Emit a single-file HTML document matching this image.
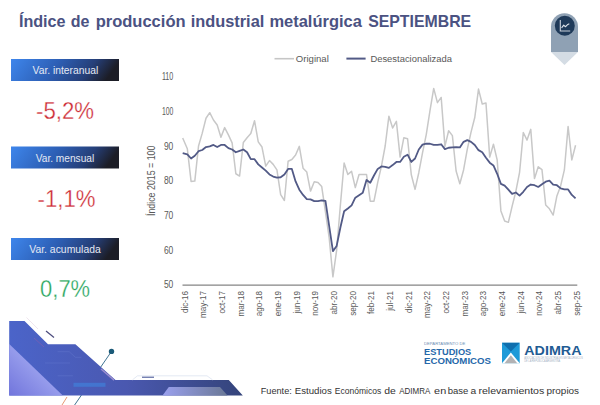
<!DOCTYPE html>
<html><head><meta charset="utf-8">
<style>
html,body{margin:0;padding:0;background:#fff;}
body{width:600px;height:405px;overflow:hidden;}
svg{display:block;font-family:"Liberation Sans",sans-serif;}
.xl{font-size:9.8px;fill:#595959;}
.yl{font-size:10px;fill:#595959;}
</style></head>
<body>
<svg width="600" height="405" viewBox="0 0 600 405">
<defs>
<linearGradient id="bx" x1="0" y1="0" x2="1" y2="0.15">
<stop offset="0" stop-color="#3e86ec"/>
<stop offset="0.45" stop-color="#2d5fb5"/>
<stop offset="0.78" stop-color="#263f78"/>
<stop offset="1" stop-color="#1c1d26"/>
</linearGradient>
<linearGradient id="dmain" x1="0" y1="0" x2="1" y2="0">
<stop offset="0" stop-color="#4b64c9"/>
<stop offset="0.5" stop-color="#4a58b0"/>
<stop offset="1" stop-color="#34447a"/>
</linearGradient>
<linearGradient id="dlight" x1="0" y1="1" x2="1" y2="0">
<stop offset="0" stop-color="#7175dc"/>
<stop offset="0.6" stop-color="#9ea4ef"/>
<stop offset="1" stop-color="#b2b8f4"/>
</linearGradient>
<linearGradient id="dpar" x1="0" y1="0" x2="1" y2="0">
<stop offset="0" stop-color="#9aa0ee"/>
<stop offset="1" stop-color="#6a7896"/>
</linearGradient>
</defs>

<!-- title -->
<g font-size="16.4" font-weight="bold" fill="#4b5282">
<text x="18.90" y="26.5" textLength="46.70" lengthAdjust="spacingAndGlyphs">Índice</text>
<text x="70.65" y="26.5" textLength="18.70" lengthAdjust="spacingAndGlyphs">de</text>
<text x="95.65" y="26.5" textLength="89.95" lengthAdjust="spacingAndGlyphs">producción</text>
<text x="190.65" y="26.5" textLength="73.70" lengthAdjust="spacingAndGlyphs">industrial</text>
<text x="269.40" y="26.5" textLength="92.45" lengthAdjust="spacingAndGlyphs">metalúrgica</text>
<text x="368.15" y="26.5" textLength="103.05" lengthAdjust="spacingAndGlyphs">SEPTIEMBRE</text>
</g>

<!-- badge -->
<path d="M551,52 L551,26.7 A13.5,13.5 0 0 1 578,26.7 L578,52 Z" fill="#8fa1b4"/>
<path d="M551,52 L578,52 L564.5,65 Z" fill="#d4dce4"/>
<circle cx="564.8" cy="25.8" r="10" fill="#1f3a59"/>
<path d="M560.3,20 V31 H570.2" stroke="#c9d0da" stroke-width="1.1" fill="none"/>
<path d="M561.6,27.8 L563.7,25.2 L565.6,26.7 L567.8,24.4 L569.3,23.7" stroke="#dfe4ea" stroke-width="1.1" fill="none" stroke-linejoin="round"/>

<!-- boxes -->
<rect x="11" y="59" width="108" height="22" fill="url(#bx)"/>
<rect x="11" y="146.5" width="108" height="22" fill="url(#bx)"/>
<rect x="11" y="238" width="108" height="22" fill="url(#bx)"/>
<g font-size="10.3" fill="#e4e9f4" text-anchor="middle">
<text x="65.4" y="74.3" textLength="65.7" lengthAdjust="spacingAndGlyphs">Var. interanual</text>
<text x="65" y="161.7" textLength="58.5" lengthAdjust="spacingAndGlyphs">Var. mensual</text>
<text x="65" y="252.8" textLength="71.5" lengthAdjust="spacingAndGlyphs">Var. acumulada</text>
</g>
<g font-size="23.2" text-anchor="middle">
<text x="65" y="118.6" fill="#cd2c35" textLength="58" lengthAdjust="spacingAndGlyphs">-5,2%</text>
<text x="66.6" y="206.6" fill="#cd2c35" textLength="58" lengthAdjust="spacingAndGlyphs">-1,1%</text>
<text x="65.1" y="296.8" fill="#27a55c" textLength="50" lengthAdjust="spacingAndGlyphs">0,7%</text>
</g>
<g font-size="23.2" text-anchor="middle" fill="none" stroke="#fff" stroke-width="0.3">
<text x="65" y="118.6" textLength="58" lengthAdjust="spacingAndGlyphs">-5,2%</text>
<text x="66.6" y="206.6" textLength="58" lengthAdjust="spacingAndGlyphs">-1,1%</text>
<text x="65.1" y="296.8" textLength="50" lengthAdjust="spacingAndGlyphs">0,7%</text>
</g>

<!-- legend -->
<line x1="274.5" y1="58.7" x2="294" y2="58.7" stroke="#c6c6c6" stroke-width="1.6"/>
<text x="295.8" y="62" font-size="9.6" fill="#595959" textLength="33" lengthAdjust="spacingAndGlyphs">Original</text>
<line x1="346.4" y1="58.6" x2="365.6" y2="58.6" stroke="#525a86" stroke-width="2"/>
<text x="370.4" y="62" font-size="9.6" fill="#595959" textLength="81.6" lengthAdjust="spacingAndGlyphs">Desestacionalizada</text>

<!-- y labels -->
<text class="yl" x="173.3" y="288.40" text-anchor="end" textLength="9.4" lengthAdjust="spacingAndGlyphs">50</text>
<text class="yl" x="173.3" y="253.70" text-anchor="end" textLength="9.4" lengthAdjust="spacingAndGlyphs">60</text>
<text class="yl" x="173.3" y="219.00" text-anchor="end" textLength="9.4" lengthAdjust="spacingAndGlyphs">70</text>
<text class="yl" x="173.3" y="184.30" text-anchor="end" textLength="9.4" lengthAdjust="spacingAndGlyphs">80</text>
<text class="yl" x="173.3" y="149.60" text-anchor="end" textLength="9.4" lengthAdjust="spacingAndGlyphs">90</text>
<text class="yl" x="173.3" y="114.90" text-anchor="end" textLength="11.4" lengthAdjust="spacingAndGlyphs">100</text>
<text class="yl" x="173.3" y="80.20" text-anchor="end" textLength="11.4" lengthAdjust="spacingAndGlyphs">110</text>
<text transform="translate(155.3,180.8) rotate(-90)" text-anchor="middle" font-size="10" fill="#595959" textLength="70.5" lengthAdjust="spacingAndGlyphs">Índice 2015 = 100</text>

<!-- axis -->
<line x1="182.5" y1="285.2" x2="577.3" y2="285.2" stroke="#858585" stroke-width="1.3"/>
<text class="xl" transform="translate(187.70,291) rotate(-90)" text-anchor="end" textLength="22.0" lengthAdjust="spacingAndGlyphs">dic-16</text>
<text class="xl" transform="translate(206.36,291) rotate(-90)" text-anchor="end" textLength="26.9" lengthAdjust="spacingAndGlyphs">may-17</text>
<text class="xl" transform="translate(225.03,291) rotate(-90)" text-anchor="end" textLength="22.5" lengthAdjust="spacingAndGlyphs">oct-17</text>
<text class="xl" transform="translate(243.69,291) rotate(-90)" text-anchor="end" textLength="25.6" lengthAdjust="spacingAndGlyphs">mar-18</text>
<text class="xl" transform="translate(262.36,291) rotate(-90)" text-anchor="end" textLength="25.2" lengthAdjust="spacingAndGlyphs">ago-18</text>
<text class="xl" transform="translate(281.03,291) rotate(-90)" text-anchor="end" textLength="25.2" lengthAdjust="spacingAndGlyphs">ene-19</text>
<text class="xl" transform="translate(299.69,291) rotate(-90)" text-anchor="end" textLength="22.5" lengthAdjust="spacingAndGlyphs">jun-19</text>
<text class="xl" transform="translate(318.36,291) rotate(-90)" text-anchor="end" textLength="24.7" lengthAdjust="spacingAndGlyphs">nov-19</text>
<text class="xl" transform="translate(337.02,291) rotate(-90)" text-anchor="end" textLength="23.4" lengthAdjust="spacingAndGlyphs">abr-20</text>
<text class="xl" transform="translate(355.69,291) rotate(-90)" text-anchor="end" textLength="24.7" lengthAdjust="spacingAndGlyphs">sep-20</text>
<text class="xl" transform="translate(374.35,291) rotate(-90)" text-anchor="end" textLength="22.9" lengthAdjust="spacingAndGlyphs">feb-21</text>
<text class="xl" transform="translate(393.01,291) rotate(-90)" text-anchor="end" textLength="19.8" lengthAdjust="spacingAndGlyphs">jul-21</text>
<text class="xl" transform="translate(411.68,291) rotate(-90)" text-anchor="end" textLength="22.0" lengthAdjust="spacingAndGlyphs">dic-21</text>
<text class="xl" transform="translate(430.35,291) rotate(-90)" text-anchor="end" textLength="26.9" lengthAdjust="spacingAndGlyphs">may-22</text>
<text class="xl" transform="translate(449.01,291) rotate(-90)" text-anchor="end" textLength="22.5" lengthAdjust="spacingAndGlyphs">oct-22</text>
<text class="xl" transform="translate(467.68,291) rotate(-90)" text-anchor="end" textLength="25.6" lengthAdjust="spacingAndGlyphs">mar-23</text>
<text class="xl" transform="translate(486.34,291) rotate(-90)" text-anchor="end" textLength="25.2" lengthAdjust="spacingAndGlyphs">ago-23</text>
<text class="xl" transform="translate(505.00,291) rotate(-90)" text-anchor="end" textLength="25.2" lengthAdjust="spacingAndGlyphs">ene-24</text>
<text class="xl" transform="translate(523.67,291) rotate(-90)" text-anchor="end" textLength="22.5" lengthAdjust="spacingAndGlyphs">jun-24</text>
<text class="xl" transform="translate(542.34,291) rotate(-90)" text-anchor="end" textLength="24.7" lengthAdjust="spacingAndGlyphs">nov-24</text>
<text class="xl" transform="translate(561.00,291) rotate(-90)" text-anchor="end" textLength="23.4" lengthAdjust="spacingAndGlyphs">abr-25</text>
<text class="xl" transform="translate(579.67,291) rotate(-90)" text-anchor="end" textLength="24.7" lengthAdjust="spacingAndGlyphs">sep-25</text>

<!-- lines -->
<polyline points="182.70,138.02 187.33,148.78 191.07,181.39 194.80,181.05 198.53,146.00 202.26,133.16 206.00,118.24 209.73,112.69 213.46,119.97 217.20,125.01 220.93,137.33 224.66,127.61 228.40,134.90 232.13,142.88 235.86,173.76 239.59,176.02 243.33,142.53 247.06,137.67 250.79,133.51 254.53,120.67 258.26,141.84 261.99,147.04 265.73,166.13 269.46,160.57 273.19,164.39 276.93,169.94 280.66,194.58 284.39,200.48 288.12,161.27 291.86,159.53 295.59,155.02 299.32,146.35 303.06,168.21 306.79,172.03 310.52,191.11 314.25,181.74 317.99,182.44 321.72,186.60 325.45,211.93 329.19,237.96 332.92,276.82 336.65,250.10 340.39,204.99 344.12,163.00 347.85,174.45 351.59,171.33 355.32,187.64 359.05,174.45 362.78,174.45 366.52,174.45 370.25,201.17 373.98,201.17 377.72,182.44 381.45,166.13 385.18,146.00 388.91,116.16 392.65,127.96 396.38,121.36 400.11,157.10 403.85,137.67 407.58,138.71 411.31,174.80 415.05,189.38 418.78,172.72 422.51,152.94 426.25,134.55 429.98,110.61 433.71,88.40 437.44,102.62 441.18,97.42 444.91,146.35 448.64,130.73 452.38,135.59 456.11,170.98 459.84,183.82 463.58,169.94 467.31,149.12 471.04,132.12 474.77,117.55 478.51,89.09 482.24,104.01 485.97,102.97 489.71,157.10 493.44,144.27 497.17,159.88 500.90,210.89 504.64,220.95 508.37,222.34 512.10,206.38 515.84,191.46 519.57,172.37 523.30,132.47 527.04,140.10 530.77,129.34 534.50,178.62 538.24,166.82 541.97,169.60 545.70,204.99 549.43,208.81 553.17,215.05 556.90,195.97 560.63,185.91 564.37,169.94 568.10,126.57 571.83,159.88 575.57,145.31" fill="none" stroke="#c8c8c8" stroke-width="1.5" stroke-linejoin="round"/>
<polyline points="182.70,153.11 187.33,154.33 191.07,158.49 194.80,155.72 198.53,151.21 202.26,149.99 206.00,147.04 209.73,146.35 213.46,144.96 217.20,147.04 220.93,144.96 224.66,144.96 228.40,148.08 232.13,149.47 235.86,152.25 239.59,150.86 243.33,149.47 247.06,152.25 250.79,159.19 254.53,159.19 258.26,164.39 261.99,167.51 265.73,170.64 269.46,174.45 273.19,176.54 276.93,177.58 280.66,177.23 284.39,174.45 288.12,168.90 291.86,168.90 295.59,181.39 299.32,189.72 303.06,194.93 306.79,199.09 310.52,199.44 314.25,201.17 317.99,201.17 321.72,200.48 325.45,200.83 329.19,226.16 332.92,251.14 336.65,245.94 340.39,227.55 344.12,211.24 347.85,208.46 351.59,205.34 355.32,197.70 359.05,195.27 362.78,192.85 366.52,180.01 370.25,182.78 373.98,175.50 377.72,168.90 381.45,166.47 385.18,166.82 388.91,167.86 392.65,165.09 396.38,161.96 400.11,161.96 403.85,156.76 407.58,154.68 411.31,161.96 415.05,158.49 418.78,149.47 422.51,144.61 426.25,143.57 429.98,143.74 433.71,144.96 437.44,144.96 441.18,144.27 444.91,149.12 448.64,147.74 452.38,147.39 456.11,147.04 459.84,147.39 463.58,141.84 467.31,140.10 471.04,141.84 474.77,144.96 478.51,150.16 482.24,152.25 485.97,157.80 489.71,162.66 493.44,165.43 497.17,173.76 500.90,183.82 504.64,185.56 508.37,189.72 512.10,193.89 515.84,192.50 519.57,195.62 523.30,191.80 527.04,186.95 530.77,184.52 534.50,185.21 538.24,186.95 541.97,184.17 545.70,181.74 549.43,180.70 553.17,184.52 556.90,185.21 560.63,188.33 564.37,189.38 568.10,189.38 571.83,194.93 575.57,198.40" fill="none" stroke="#525a86" stroke-width="1.8" stroke-linejoin="round"/>

<!-- decoration -->
<path d="M26.5,317.5 L38,329" stroke="#efe6ee" stroke-width="1"/>
<line x1="111.5" y1="351.4" x2="74.6" y2="405" stroke="#2a6486" stroke-width="0.9"/>
<path d="M9.2,321 L24.5,321 L48,344.3 L75.4,344.3 L115.5,380.1 L228.8,380.1 L242.8,395.6 L9.2,395.6 Z" fill="url(#dmain)"/>
<path d="M9.2,344 L62.8,395.6 L9.2,395.6 Z" fill="url(#dlight)"/>
<path d="M162.5,395.6 L168.8,387 L220,387 L227.5,395.6 Z" fill="url(#dpar)"/>
<rect x="73.5" y="382.8" width="32" height="4" fill="#3f86e0" opacity="0.6"/>
<g stroke="#8ea4ec" stroke-width="0.5" fill="none" opacity="0.35">
<path d="M57.5,351.7 L69.2,351.7 L75.4,357.3 L81.5,357.3"/>
<path d="M57.5,375.8 L72.9,375.8"/>
<path d="M45,363 L70,363"/>
</g>
<path d="M101,369 L114,380.1" stroke="#9a8ed0" stroke-width="1.4"/>
<circle cx="111.5" cy="351.4" r="2.7" fill="#1b5a78"/>
<line x1="67" y1="397" x2="62" y2="405" stroke="#e08050" stroke-width="0.8"/>
<path d="M132.5,379.8 L137.5,375.8 L207,375.8 L212.5,379.8" fill="none" stroke="#dde3f0" stroke-width="0.8"/>
<line x1="142" y1="377.2" x2="154" y2="377.2" stroke="#3a4a90" stroke-width="1"/>
<line x1="46" y1="331" x2="54" y2="337.5" stroke="#4a4a7c" stroke-width="1.2"/>
<line x1="34" y1="338" x2="44" y2="347" stroke="#8a5fb0" stroke-width="1" opacity="0.6"/>

<!-- logos -->
<text x="424" y="344.7" font-size="4.2" fill="#6d8db3" textLength="41.3" lengthAdjust="spacingAndGlyphs">DEPARTAMENTO DE</text>
<text x="424" y="354.7" font-size="9.3" font-weight="bold" fill="#2668aa" textLength="47.3" lengthAdjust="spacingAndGlyphs">ESTUDIOS</text>
<text x="424" y="364" font-size="9.3" font-weight="bold" fill="#2668aa" textLength="67" lengthAdjust="spacingAndGlyphs">ECONÓMICOS</text>

<g>
<rect x="502" y="342.8" width="17.7" height="20.4" fill="#1e9ad8"/>
<path d="M502,342.8 L519.7,342.8 L510.85,351.5 Z" fill="#0f6fae"/>
<path d="M502,363.2 L510.85,352.6 L519.7,363.2 Z" fill="#fff"/>
<path d="M504.5,363.2 L510.85,355.2 L517.2,363.2 Z" fill="#b2b2b4"/>
</g>
<text x="524.3" y="355.2" font-size="13.2" font-weight="bold" fill="#1f5c93" textLength="57.2" lengthAdjust="spacingAndGlyphs">ADIMRA</text>
<text x="524.3" y="359" font-size="2.6" fill="#9fb0c4" textLength="58.5" lengthAdjust="spacingAndGlyphs">ASOCIACIÓN DE INDUSTRIALES METALÚRGICOS</text>
<text x="524.3" y="361.8" font-size="2.6" fill="#9fb0c4" textLength="35.7" lengthAdjust="spacingAndGlyphs">DE LA REPÚBLICA ARGENTINA</text>

<!-- footer -->
<g font-size="9.5" fill="#333">
<text x="260.70" y="394.4" textLength="31.10" lengthAdjust="spacingAndGlyphs">Fuente:</text>
<text x="294.80" y="394.4" textLength="37.00" lengthAdjust="spacingAndGlyphs">Estudios</text>
<text x="334.80" y="394.4" textLength="46.40" lengthAdjust="spacingAndGlyphs">Económicos</text>
<text x="384.20" y="394.4" textLength="11.60" lengthAdjust="spacingAndGlyphs">de</text>
<text x="399.20" y="394.4" textLength="31.10" lengthAdjust="spacingAndGlyphs">ADIMRA</text>
<text x="434.10" y="394.4" textLength="12.10" lengthAdjust="spacingAndGlyphs">en</text>
<text x="447.70" y="394.4" textLength="20.60" lengthAdjust="spacingAndGlyphs">base</text>
<text x="470.50" y="394.4" textLength="5.70" lengthAdjust="spacingAndGlyphs">a</text>
<text x="478.40" y="394.4" textLength="65.90" lengthAdjust="spacingAndGlyphs">relevamientos</text>
<text x="546.50" y="394.4" textLength="32.60" lengthAdjust="spacingAndGlyphs">propios</text>
</g>
</svg>
</body></html>
